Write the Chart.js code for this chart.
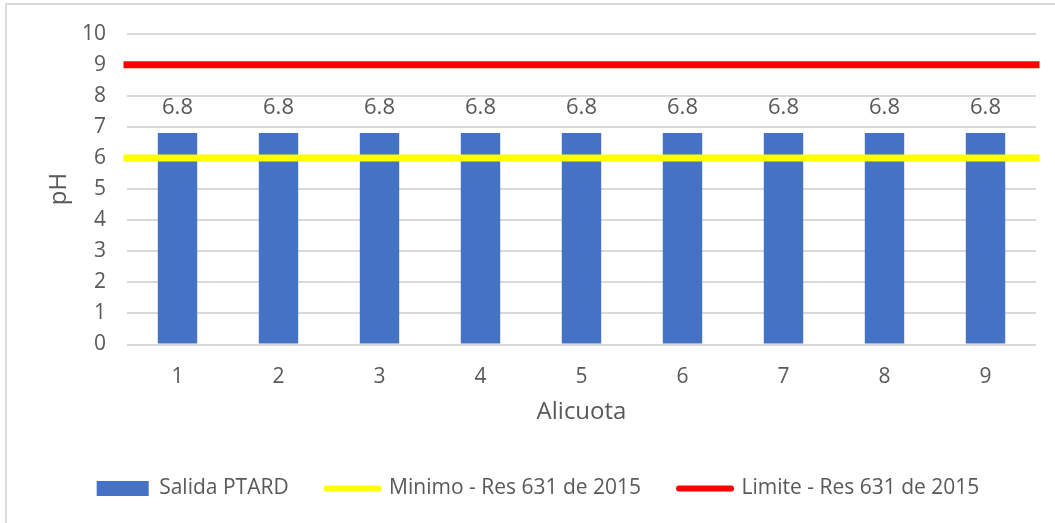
<!DOCTYPE html>
<html>
<head>
<meta charset="utf-8">
<script src="https://cdn.jsdelivr.net/npm/chart.js@4.4.1/dist/chart.umd.min.js"></script>
<style>
  html, body { margin: 0; padding: 0; background: #ffffff; }
  #wrap { position: relative; width: 1055px; height: 523px; overflow: hidden; }
  #frame { position: absolute; left: 5px; top: 3px; width: 1100px; height: 600px;
           border-left: 2px solid #d9d9d9; border-top: 2px solid #d9d9d9; }
  #c { position: absolute; left: 0; top: 0; }
</style>
</head>
<body>
<div id="wrap">
  <div id="frame"></div>
  <canvas id="c" width="1055" height="523"></canvas>
</div>
<script>
// Alicuotas muestreadas
const alicuotas = ['1', '2', '3', '4', '5', '6', '7', '8', '9'];
// pH medido en la salida de la PTARD
const salidaPTARD = [6.8, 6.8, 6.8, 6.8, 6.8, 6.8, 6.8, 6.8, 6.8];
// Valores normativos (Res 631 de 2015)
const minimoRes = [6, 6, 6, 6, 6, 6, 6, 6, 6];
const limiteRes = [9, 9, 9, 9, 9, 9, 9, 9, 9];
// Escala del eje pH
const phMin = 0;
const phMax = 10;
const phStep = 1;

const FONT = "'Open Sans', 'Liberation Sans', sans-serif";
const GREY = '#595959';

// Etiquetas de valor sobre cada barra
const barValueLabels = {
  id: 'barValueLabels',
  afterDatasetsDraw(chart) {
    const ctx = chart.ctx;
    const meta = chart.getDatasetMeta(0);
    const values = chart.data.datasets[0].data;
    ctx.save();
    ctx.font = "22px " + FONT;
    ctx.fillStyle = GREY;
    ctx.textAlign = 'center';
    ctx.textBaseline = 'middle';
    meta.data.forEach((bar, i) => {
      ctx.fillText(String(values[i]), bar.x, bar.y - 25);
    });
    ctx.restore();
  }
};

new Chart(document.getElementById('c'), {
  type: 'bar',
  data: {
    labels: alicuotas,
    datasets: [
      {
        type: 'bar',
        label: 'Salida PTARD',
        data: salidaPTARD,
        backgroundColor: '#4472C4',
        borderWidth: 0,
        grouped: false,
        categoryPercentage: 1,
        barPercentage: 0.39,
        xAxisID: 'x',
        order: 1
      },
      {
        type: 'line',
        label: 'Minimo - Res 631 de 2015',
        data: minimoRes,
        borderColor: '#FFFF00',
        backgroundColor: '#FFFF00',
        borderWidth: 7,
        borderCapStyle: 'square',
        pointRadius: 0,
        xAxisID: 'x2',
        clip: false,
        order: 0
      },
      {
        type: 'line',
        label: 'Limite - Res 631 de 2015',
        data: limiteRes,
        borderColor: '#FF0000',
        backgroundColor: '#FF0000',
        borderWidth: 7,
        borderCapStyle: 'square',
        pointRadius: 0,
        xAxisID: 'x2',
        clip: false,
        order: 0
      }
    ]
  },
  options: {
    responsive: false,
    animation: false,
    layout: { padding: { top: 33, left: 40, right: 19, bottom: 14 } },
    plugins: {
      tooltip: { enabled: false },
      legend: {
        position: 'bottom',
        labels: {
          font: { family: FONT, size: 21 },
          color: GREY,
          usePointStyle: true,
          pointStyleWidth: 52,
          boxHeight: 15,
          padding: 38,
          sort: (a, b) => a.datasetIndex - b.datasetIndex,
          generateLabels(chart) {
            const items = Chart.defaults.plugins.legend.labels.generateLabels(chart);
            items.forEach(it => {
              const ds = chart.data.datasets[it.datasetIndex];
              if (ds.type === 'bar') {
                it.pointStyle = 'rect';
                it.fillStyle = ds.backgroundColor;
                it.strokeStyle = ds.backgroundColor;
                it.lineWidth = 0;
              } else {
                it.pointStyle = 'line';
                it.strokeStyle = ds.borderColor;
                it.lineWidth = 6;
                it.lineCap = 'round';
              }
            });
            return items;
          }
        }
      }
    },
    scales: {
      x: {
        type: 'category',
        offset: true,
        grid: { display: false, drawTicks: false },
        border: { display: false },
        ticks: { color: GREY, font: { family: FONT, size: 21 }, padding: 20 },
        title: {
          display: true,
          text: 'Alicuota',
          color: GREY,
          font: { family: FONT, size: 24 },
          padding: { top: 0, bottom: 13 }
        },
        afterFit(scale) { scale.height = 95.5; }
      },
      x2: {
        type: 'category',
        labels: alicuotas,
        offset: false,
        display: false
      },
      y: {
        min: phMin,
        max: phMax,
        ticks: { stepSize: phStep, color: GREY, font: { family: FONT, size: 21 }, padding: 21 },
        grid: { color: '#d9d9d9', lineWidth: 2, drawTicks: false },
        border: { display: false },
        title: {
          display: true,
          text: 'pH',
          color: GREY,
          font: { family: FONT, size: 24 },
          padding: { top: 5, bottom: 0 }
        },
        afterFit(scale) { scale.width = 87; }
      }
    }
  },
  plugins: [barValueLabels]
});
</script>
</body>
</html>
